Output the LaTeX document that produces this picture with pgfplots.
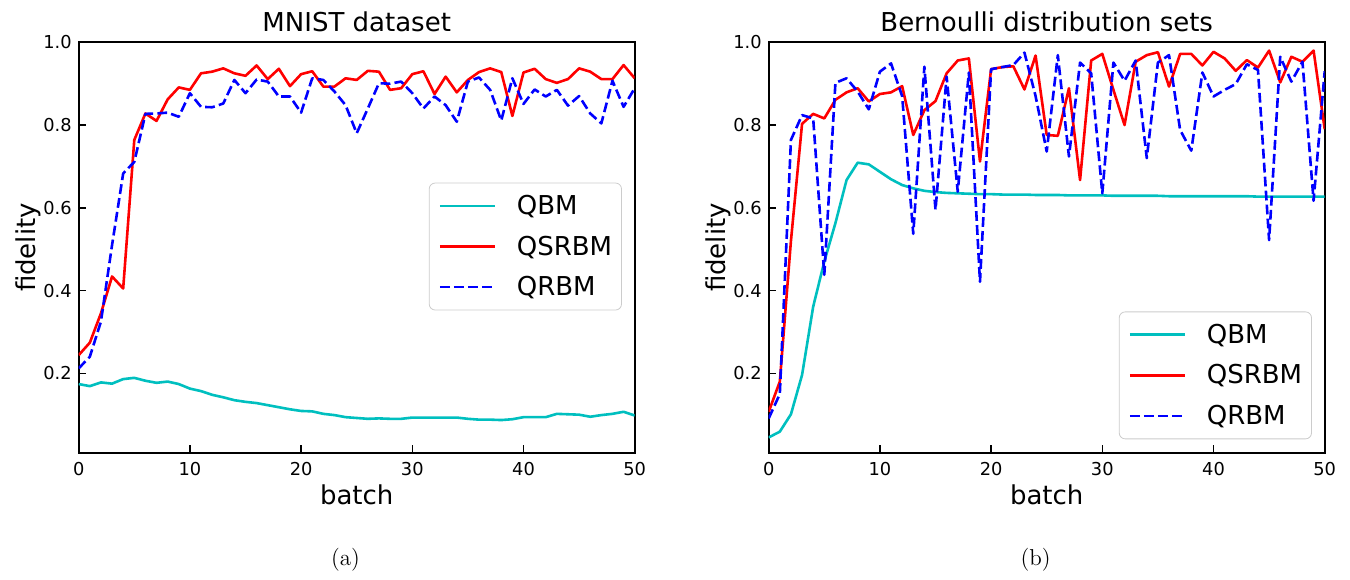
\documentclass[border=0pt]{standalone}
\usepackage{fontspec}
\newfontfamily\dv{DejaVu Sans}
\usepackage{pgfplots}
\usepackage{pgfplotstable}
\pgfplotsset{compat=1.18}
\definecolor{qbmc}{RGB}{0,191,191}
\definecolor{legframe}{RGB}{204,204,204}

% batch  QBM  QSRBM  QRBM
\pgfplotstableread{
x  qbm    qsrbm  qrbm
0  0.174  0.244  0.212
1  0.169  0.274  0.240
2  0.178  0.345  0.325
3  0.175  0.434  0.510
4  0.186  0.405  0.683
5  0.189  0.764  0.711
6  0.182  0.828  0.827
7  0.177  0.810  0.828
8  0.180  0.862  0.830
9  0.174  0.891  0.820
10 0.163  0.885  0.877
11 0.157  0.925  0.844
12 0.148  0.929  0.843
13 0.142  0.937  0.852
14 0.135  0.925  0.909
15 0.131  0.919  0.877
16 0.128  0.944  0.910
17 0.123  0.911  0.905
18 0.118  0.936  0.869
19 0.113  0.894  0.869
20 0.109  0.923  0.830
21 0.108  0.930  0.913
22 0.102  0.893  0.909
23 0.099  0.893  0.881
24 0.094  0.913  0.848
25 0.092  0.909  0.780
26 0.090  0.931  0.840
27 0.091  0.929  0.901
28 0.090  0.885  0.900
29 0.090  0.889  0.905
30 0.093  0.923  0.877
31 0.093  0.930  0.840
32 0.093  0.875  0.869
33 0.093  0.917  0.848
34 0.093  0.879  0.808
35 0.090  0.909  0.905
36 0.088  0.928  0.915
37 0.088  0.937  0.885
38 0.087  0.928  0.811
39 0.089  0.822  0.913
40 0.094  0.927  0.851
41 0.094  0.936  0.886
42 0.094  0.911  0.869
43 0.102  0.902  0.885
44 0.101  0.911  0.847
45 0.100  0.937  0.870
46 0.095  0.929  0.828
47 0.099  0.911  0.804
48 0.102  0.911  0.907
49 0.107  0.945  0.844
50 0.098  0.913  0.889
}\mnist

\pgfplotstableread{
x  qbm    qsrbm  qrbm
0  0.045  0.107  0.091
1  0.059  0.180  0.150
2  0.101  0.520  0.764
3  0.196  0.803  0.824
4  0.361  0.827  0.816
5  0.470  0.816  0.438
6  0.563  0.861  0.902
7  0.667  0.879  0.913
8  0.709  0.889  0.881
9  0.705  0.857  0.838
10 0.687  0.875  0.929
11 0.669  0.879  0.949
12 0.655  0.894  0.870
13 0.647  0.776  0.537
14 0.641  0.836  0.941
15 0.638  0.858  0.595
16 0.636  0.925  0.917
17 0.635  0.956  0.639
18 0.634  0.961  0.927
19 0.633  0.712  0.421
20 0.633  0.935  0.935
21 0.632  0.940  0.940
22 0.632  0.942  0.945
23 0.632  0.886  0.975
24 0.631  0.968  0.870
25 0.631  0.776  0.736
26 0.631  0.774  0.969
27 0.630  0.889  0.724
28 0.630  0.667  0.951
29 0.630  0.956  0.925
30 0.630  0.972  0.635
31 0.629  0.885  0.951
32 0.629  0.800  0.907
33 0.629  0.953  0.956
34 0.629  0.969  0.720
35 0.629  0.976  0.951
36 0.628  0.893  0.969
37 0.628  0.972  0.788
38 0.628  0.972  0.738
39 0.628  0.944  0.927
40 0.628  0.977  0.869
41 0.628  0.961  0.885
42 0.628  0.931  0.899
43 0.628  0.957  0.947
44 0.627  0.939  0.933
45 0.627  0.980  0.522
46 0.627  0.903  0.965
47 0.627  0.965  0.905
48 0.627  0.953  0.953
49 0.627  0.980  0.617
50 0.627  0.790  0.930
}\bern

\pgfplotsset{
  panel/.style={
    anchor=south west, scale only axis,
    width=278pt, height=205.2pt,
    xmin=0, xmax=50, ymin=0.0081, ymax=1.0,
    xtick={0,10,...,50}, ytick={0.2,0.4,0.6,0.8,1.0},
    yticklabel style={/pgf/number format/fixed,
      /pgf/number format/precision=1, /pgf/number format/fixed zerofill},
    /pgf/number format/assume math mode=true,
    tick align=inside, tick pos=left,
    major tick length=3.7pt,
    every tick/.style={black, line width=0.8pt},
    axis line style={line width=0.9pt},
    tick label style={font=\dv\fontsize{8.9}{10}\selectfont},
    xticklabel style={yshift=-1.5pt},
    every axis x label/.style={at={(axis description cs:0.5,-0.1274)}, anchor=base,
      font=\dv\fontsize{13}{15}\selectfont},
    every axis y label/.style={at={(axis description cs:-0.0786,0.5)}, anchor=base,
      rotate=90, font=\dv\fontsize{13}{15}\selectfont},
    every axis title/.style={at={(axis description cs:0.5,1)}, anchor=base,
      yshift=5.3pt, font=\dv\fontsize{13}{15}\selectfont},
    xlabel={batch}, ylabel={fidelity},
    legend cell align=left,
    legend image code/.code={\draw[##1] (0pt,0pt) -- (27.5pt,0pt);},
    legend style={font=\dv\fontsize{13}{15}\selectfont, draw=legframe,
      rounded corners=3pt, fill=white,
      inner xsep=4.7pt, inner ysep=6.2pt, row sep=9.8pt, column sep=10.3pt,
      nodes={inner sep=0pt, text height=9.5pt, text depth=1pt}},
  },
  qbm/.style={qbmc, line width=1.3pt, line join=round},
  qsrbm/.style={red, line width=1.3pt, line join=round},
  qrbm/.style={blue, line width=1.3pt, line join=round, dash pattern=on 4.9pt off 2.1pt},
}

\begin{document}
\begin{tikzpicture}
\useasboundingbox (0,0) rectangle (675pt,289.5pt);
\begin{axis}[panel, at={(39.35pt,63.15pt)},
  title={MNIST dataset},
  legend style={at={(axis description cs:0.977,0.5024)}, anchor=east},
  extra description/.code={\node[font=\fontsize{11.5}{13}\selectfont] at (0.48,-0.2615) {(a)};}]
  \addplot[qbm] table[x=x, y=qbm] {\mnist};
  \addplot[qsrbm] table[x=x, y=qsrbm] {\mnist};
  \addplot[qrbm] table[x=x, y=qrbm] {\mnist};
  \legend{QBM, QSRBM, QRBM}
\end{axis}
\begin{axis}[panel, at={(384.35pt,63.15pt)},
  title={Bernoulli distribution sets},
  legend style={at={(axis description cs:0.977,0.0327)}, anchor=south east},
  extra description/.code={\node[font=\fontsize{11.5}{13}\selectfont] at (0.48,-0.2615) {(b)};}]
  \addplot[qbm] table[x=x, y=qbm] {\bern};
  \addplot[qsrbm] table[x=x, y=qsrbm] {\bern};
  \addplot[qrbm] table[x=x, y=qrbm] {\bern};
  \legend{QBM, QSRBM, QRBM}
\end{axis}
\end{tikzpicture}
\end{document}
